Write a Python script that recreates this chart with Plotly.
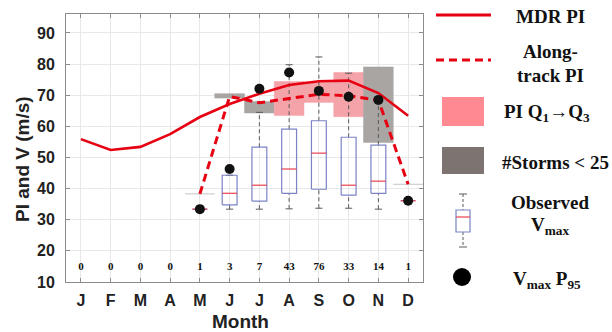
import plotly.graph_objects as go

# ---- monthly data -------------------------------------------------------
month_labels = ["J", "F", "M", "A", "M", "J", "J", "A", "S", "O", "N", "D"]
months = list(range(1, 13))
storm_counts = [0, 0, 0, 0, 1, 3, 7, 43, 76, 33, 14, 1]

# potential intensity (m/s)
mdr_pi = [55.9, 52.4, 53.4, 57.5, 63.0, 67.2, 70.5, 73.3, 74.5, 74.7, 70.7, 63.4]
track_pi = [None, None, None, None, 38.3, 69.6, 67.6, 68.9, 70.3, 69.8, 68.4, 41.4]
pi_q1 = [None, None, None, None, 38.3, 69.1, 64.3, 63.5, 67.7, 63.1, 54.8, 41.4]
pi_q3 = [None, None, None, None, 38.3, 70.5, 68.0, 74.4, 74.2, 77.3, 79.1, 41.4]

# observed maximum wind (m/s) box statistics
v_min = [None, None, None, None, 33.4, 33.4, 33.4, 33.5, 33.7, 33.7, 33.4, 36.1]
v_q1 = [None, None, None, None, 33.4, 34.8, 36.0, 38.5, 39.8, 37.9, 38.5, 36.1]
v_med = [None, None, None, None, 33.4, 38.5, 41.1, 46.3, 51.4, 41.1, 42.4, 36.1]
v_q3 = [None, None, None, None, 33.4, 44.3, 53.3, 59.1, 61.8, 56.5, 54.0, 36.1]
v_max = [None, None, None, None, 33.4, 44.3, 64.5, 79.8, 82.3, 77.1, 68.5, 36.1]
v_p95 = [None, None, None, None, 33.4, 46.3, 72.1, 77.3, 71.4, 69.5, 68.5, 36.1]

MIN_STORMS = 25
COUNT_LABEL_Y = 14.7

# ---- styling ------------------------------------------------------------
RED = "#e60012"
PINK = "#f4a3a8"
GREY = "#a8a5a3"
FLAT_GREY = "#c4c4c4"
BOX_BLUE = "#7b83c4"
MED_RED = "#e8414f"
WHISK = "#5a5a5a"
LEG_PINK = "#ff8a92"
LEG_GREY = "#7d7471"
SANS = "Liberation Sans, Arial, sans-serif"
SERIF = "Liberation Serif, Times New Roman, serif"

# plot area in pixels
L, R, T, B = 66, 423, 14, 282
W, H = 612, 332


def px(x):
    return (x - L) / (R - L)


def py(y):
    return (B - y) / (B - T)


fig = go.Figure()

# interquartile range of PI for each month
for m, q1, q3, n in zip(months, pi_q1, pi_q3, storm_counts):
    if q1 is None:
        continue
    xs = [m - 0.5, m + 0.5, m + 0.5, m - 0.5, m - 0.5]
    ys = [q1, q1, q3, q3, q1]
    if q1 == q3:
        fig.add_trace(go.Scatter(x=xs[:2], y=ys[:2], mode="lines",
                                 line=dict(color=FLAT_GREY, width=1),
                                 hoverinfo="skip", showlegend=False))
        continue
    col = PINK if n >= MIN_STORMS else GREY
    fig.add_trace(go.Scatter(x=xs, y=ys, mode="lines", fill="toself",
                             fillcolor=col, line=dict(color=col, width=0.5),
                             hoverinfo="skip", showlegend=False))

# box plots of observed Vmax
wx, wy, cx, cy, bx, by, mx, my = [], [], [], [], [], [], [], []
hw, cw = 0.25, 0.12
for m, lo, q1, md, q3, hi in zip(months, v_min, v_q1, v_med, v_q3, v_max):
    if lo is None:
        continue
    wx += [m, m, None, m, m, None]
    wy += [q3, hi, None, lo, q1, None]
    cx += [m - cw, m + cw, None, m - cw, m + cw, None]
    cy += [hi, hi, None, lo, lo, None]
    bx += [m - hw, m + hw, m + hw, m - hw, m - hw, None]
    by += [q1, q1, q3, q3, q1, None]
    mx += [m - hw, m + hw, None]
    my += [md, md, None]

fig.add_trace(go.Scatter(x=wx, y=wy, mode="lines",
                         line=dict(color=WHISK, width=1, dash="4px,3px"),
                         hoverinfo="skip", showlegend=False))
fig.add_trace(go.Scatter(x=cx, y=cy, mode="lines",
                         line=dict(color=WHISK, width=1),
                         hoverinfo="skip", showlegend=False))
fig.add_trace(go.Scatter(x=bx, y=by, mode="lines",
                         line=dict(color=BOX_BLUE, width=1.2),
                         hoverinfo="skip", showlegend=False))
fig.add_trace(go.Scatter(x=mx, y=my, mode="lines",
                         line=dict(color=MED_RED, width=1.2),
                         hoverinfo="skip", showlegend=False))

# PI curves
fig.add_trace(go.Scatter(x=months, y=mdr_pi, mode="lines",
                         line=dict(color=RED, width=2.6),
                         showlegend=False))
fig.add_trace(go.Scatter(x=months, y=track_pi, mode="lines",
                         line=dict(color=RED, width=3, dash="8px,5px"),
                         showlegend=False))

# 95th percentile of Vmax
fig.add_trace(go.Scatter(x=months, y=v_p95, mode="markers",
                         marker=dict(color="#111111", size=10),
                         showlegend=False))

# storm counts
fig.add_trace(go.Scatter(x=months, y=[COUNT_LABEL_Y] * len(months),
                         mode="text", text=[str(c) for c in storm_counts],
                         textfont=dict(family=SERIF, size=11, color="#111111",
                                       weight="bold"),
                         hoverinfo="skip", showlegend=False))

axis_common = dict(showline=True, linecolor="#8c8c8c", linewidth=1,
                   mirror="ticks", ticks="inside", ticklen=4,
                   tickcolor="#8c8c8c", showgrid=True, gridcolor="#e8e8e8",
                   zeroline=False,
                   tickfont=dict(family=SANS, size=16, color="#222222",
                                 weight="bold"))

fig.update_xaxes(range=[0.5, 12.5], tickvals=months, ticktext=month_labels,
                 ticklabelstandoff=4, **axis_common)
fig.update_yaxes(range=[10, 96.1], tickvals=list(range(10, 100, 10)),
                 ticklabelstandoff=7, **axis_common)

shapes = []
annotations = []

# axis titles
annotations.append(dict(x=px(240), y=py(321), xref="paper", yref="paper",
                        xanchor="center", yanchor="middle",
                        text="Month", showarrow=False,
                        font=dict(family=SANS, size=19, color="#222222",
                                  weight="bold")))
annotations.append(dict(x=px(22), y=py(159), xref="paper", yref="paper",
                        xanchor="center", yanchor="middle",
                        text="PI and V (m/s)", textangle=-90, showarrow=False,
                        font=dict(family=SANS, size=19, color="#222222",
                                  weight="bold")))

# ---- key on the right ----------------------------------------------------
leg_font = dict(family=SERIF, size=19, color="#111111", weight="bold")


def leg_text(text, x, y):
    annotations.append(dict(x=px(x), y=py(y), xref="paper", yref="paper",
                            text=text, showarrow=False, font=leg_font,
                            xanchor="center", yanchor="middle"))


def leg_shape(**kw):
    kw.update(xref="paper", yref="paper")
    shapes.append(kw)


leg_shape(type="line", x0=px(436), x1=px(491), y0=py(15), y1=py(15),
          line=dict(color=RED, width=3))
leg_text("MDR PI", 550, 16)

leg_shape(type="line", x0=px(436), x1=px(491), y0=py(60), y1=py(60),
          line=dict(color=RED, width=3, dash="8px,5px"))
leg_text("Along-", 550, 52)
leg_text("track PI", 550, 75)

leg_shape(type="rect", x0=px(442), x1=px(484), y0=py(97), y1=py(126),
          fillcolor=LEG_PINK, line=dict(width=0))
leg_text("PI Q<sub>1</sub>→Q<sub>3</sub>", 547, 113)

leg_shape(type="rect", x0=px(442), x1=px(484), y0=py(147), y1=py(174),
          fillcolor=LEG_GREY, line=dict(width=0))
leg_text("#Storms &lt; 25", 555, 162)

# miniature box plot
bxc = 463
leg_shape(type="line", x0=px(bxc), x1=px(bxc), y0=py(194), y1=py(210),
          line=dict(color=WHISK, width=1, dash="3px,2px"))
leg_shape(type="line", x0=px(bxc), x1=px(bxc), y0=py(232), y1=py(247),
          line=dict(color=WHISK, width=1, dash="3px,2px"))
leg_shape(type="line", x0=px(bxc - 4), x1=px(bxc + 4), y0=py(194), y1=py(194),
          line=dict(color=WHISK, width=1))
leg_shape(type="line", x0=px(bxc - 4), x1=px(bxc + 4), y0=py(247), y1=py(247),
          line=dict(color=WHISK, width=1))
leg_shape(type="rect", x0=px(bxc - 7), x1=px(bxc + 7), y0=py(210), y1=py(232),
          fillcolor="white", line=dict(color=BOX_BLUE, width=1.2))
leg_shape(type="line", x0=px(bxc - 7), x1=px(bxc + 7), y0=py(217), y1=py(217),
          line=dict(color=MED_RED, width=1.2))
leg_text("Observed", 550, 202)
leg_text("V<sub>max</sub>", 550, 226)

leg_shape(type="circle", x0=px(453), x1=px(471), y0=py(268), y1=py(286),
          fillcolor="#000000", line=dict(color="#000000", width=0))
leg_text("V<sub>max</sub> P<sub>95</sub>", 547, 280)

fig.update_layout(width=W, height=H,
                  margin=dict(l=L, r=W - R, t=T, b=H - B),
                  plot_bgcolor="white", paper_bgcolor="white",
                  shapes=shapes, annotations=annotations)

fig.write_html("out.html")
